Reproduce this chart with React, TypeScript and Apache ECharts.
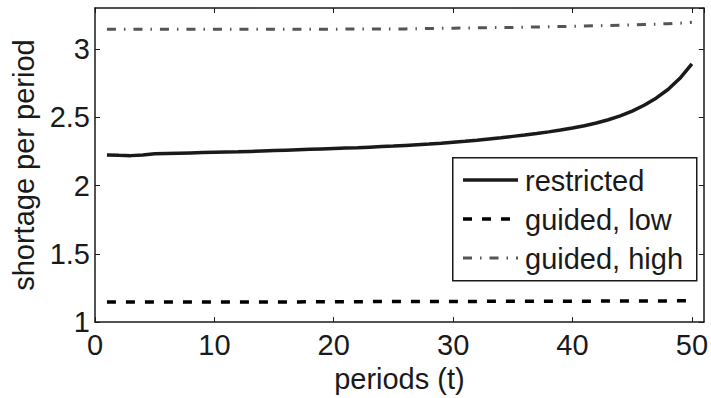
import React, { useEffect, useRef } from "react";
import * as echarts from "echarts";

const periods: number[] = Array.from({ length: 50 }, (_, i) => i + 1);

const restricted: number[] = [
  2.224, 2.221, 2.219, 2.224, 2.233, 2.235, 2.237, 2.239, 2.241, 2.243,
  2.245, 2.247, 2.25, 2.253, 2.256, 2.259, 2.262, 2.265, 2.268, 2.271,
  2.274, 2.277, 2.281, 2.285, 2.289, 2.294, 2.299, 2.304, 2.31, 2.317,
  2.324, 2.332, 2.341, 2.35, 2.36, 2.37, 2.381, 2.393, 2.406, 2.421,
  2.438, 2.458, 2.482, 2.51, 2.545, 2.588, 2.64, 2.703, 2.785, 2.89,
];

const guidedLow: number[] = [
  1.147, 1.147, 1.147, 1.147, 1.147, 1.147, 1.147, 1.147, 1.147, 1.147,
  1.148, 1.148, 1.148, 1.148, 1.148, 1.148, 1.148, 1.149, 1.149, 1.149,
  1.149, 1.149, 1.15, 1.15, 1.15, 1.15, 1.15, 1.151, 1.151, 1.151,
  1.151, 1.151, 1.152, 1.152, 1.152, 1.152, 1.152, 1.153, 1.153, 1.153,
  1.153, 1.154, 1.154, 1.154, 1.154, 1.155, 1.155, 1.155, 1.156, 1.156,
];

const guidedHigh: number[] = [
  3.145, 3.145, 3.145, 3.145, 3.145, 3.145, 3.145, 3.145, 3.145, 3.145,
  3.145, 3.145, 3.145, 3.145, 3.145, 3.145, 3.145, 3.145, 3.145, 3.145,
  3.146, 3.146, 3.146, 3.146, 3.146, 3.147, 3.148, 3.15, 3.151, 3.152,
  3.154, 3.155, 3.156, 3.157, 3.158, 3.16, 3.161, 3.163, 3.164, 3.166,
  3.168, 3.17, 3.172, 3.174, 3.176, 3.179, 3.182, 3.185, 3.189, 3.195,
];

const seriesNames: string[] = ["restricted", "guided, low", "guided, high"];
const xTicks: number[] = [0, 10, 20, 30, 40, 50];
const yTicks: number[] = [1, 1.5, 2, 2.5, 3];

const FONT = "'Liberation Sans', Arial, Helvetica, sans-serif";
const INK = "#1a1a1a";

const STYLES = [
  { color: INK, width: 3.5, dash: null as number[] | null },
  { color: "#000000", width: 3.5, dash: [9, 10] },
  { color: "#555555", width: 3, dash: [9, 8, 1.5, 8] },
];

export default function App() {
  const ref = useRef<HTMLDivElement>(null);

  useEffect(() => {
    if (!ref.current) return;
    const chart = echarts.init(ref.current, undefined, { renderer: "svg" });
    const pairs = (vals: number[]) => periods.map((t, i) => [t, vals[i]]);
    const xFmt = (v: number) => (xTicks.includes(v) ? String(v) : "");
    const yFmt = (v: number) => (yTicks.some((t) => Math.abs(t - v) < 1e-9) ? String(v) : "");

    const commonX = {
      type: "value" as const,
      min: 0,
      max: 51,
      interval: 10,
      splitLine: { show: false },
      axisLine: { show: true, onZero: false, lineStyle: { color: INK, width: 1.5 } },
      axisTick: { show: true, inside: true, length: 5, lineStyle: { color: INK, width: 1 } },
    };
    const commonY = {
      type: "value" as const,
      min: 1,
      max: 3.3,
      interval: 0.5,
      splitLine: { show: false },
      axisLine: { show: true, onZero: false, lineStyle: { color: INK, width: 1.5 } },
      axisTick: { show: true, inside: true, length: 5, lineStyle: { color: INK, width: 1 } },
    };

    // legend drawn as graphic elements (box, sample lines, labels)
    const legendLeft = 452;
    const legendTop = 157;
    const rowY = [180, 219, 258];
    const legendGraphics: any[] = [
      {
        type: "rect",
        left: legendLeft,
        top: legendTop,
        shape: { width: 244, height: 123 },
        style: { fill: "#ffffff", stroke: INK, lineWidth: 1.5 },
        z: 10,
      },
    ];
    seriesNames.forEach((name, i) => {
      const s = STYLES[i];
      legendGraphics.push({
        type: "line",
        shape: { x1: 463, y1: rowY[i], x2: 518, y2: rowY[i] },
        style: {
          stroke: s.color,
          lineWidth: s.width,
          lineDash: s.dash || undefined,
        },
        z: 11,
      });
      legendGraphics.push({
        type: "text",
        x: 525,
        y: rowY[i] + 1,
        style: {
          text: name,
          fill: INK,
          font: `29px ${FONT}`,
          textVerticalAlign: "middle",
          verticalAlign: "middle",
          align: "left",
        },
        z: 11,
      });
    });

    chart.setOption({
      animation: false,
      backgroundColor: "#ffffff",
      textStyle: { fontFamily: FONT, color: INK },
      grid: { left: 95, top: 8, right: 6, bottom: 70, containLabel: false },
      xAxis: [
        {
          ...commonX,
          position: "bottom",
          name: "periods (t)",
          nameLocation: "middle",
          nameGap: 34,
          nameTextStyle: { fontSize: 29, color: INK, fontFamily: FONT },
          axisLabel: {
            show: true,
            fontSize: 29,
            color: INK,
            fontFamily: FONT,
            margin: 8,
            formatter: xFmt,
            showMaxLabel: false,
          },
        },
        {
          ...commonX,
          position: "top",
          axisLabel: { show: false },
        },
      ],
      yAxis: [
        {
          ...commonY,
          position: "left",
          name: "shortage per period",
          nameLocation: "middle",
          nameGap: 52,
          nameTextStyle: { fontSize: 29, color: INK, fontFamily: FONT },
          axisLabel: {
            show: true,
            fontSize: 29,
            color: INK,
            fontFamily: FONT,
            margin: 5,
            formatter: yFmt,
            showMaxLabel: false,
          },
        },
        {
          ...commonY,
          position: "right",
          axisLabel: { show: false },
        },
      ],
      legend: { show: false },
      graphic: legendGraphics,
      series: seriesNames.map((name, i) => ({
        name,
        type: "line",
        data: pairs([restricted, guidedLow, guidedHigh][i]),
        symbol: "none",
        lineStyle: {
          color: STYLES[i].color,
          width: STYLES[i].width,
          type: STYLES[i].dash || "solid",
        },
        itemStyle: { color: STYLES[i].color },
      })),
    });
    return () => chart.dispose();
  }, []);

  return (
    <div
      ref={ref}
      style={{ position: "fixed", left: 0, top: 0, width: 711, height: 398, background: "#fff" }}
    />
  );
}
